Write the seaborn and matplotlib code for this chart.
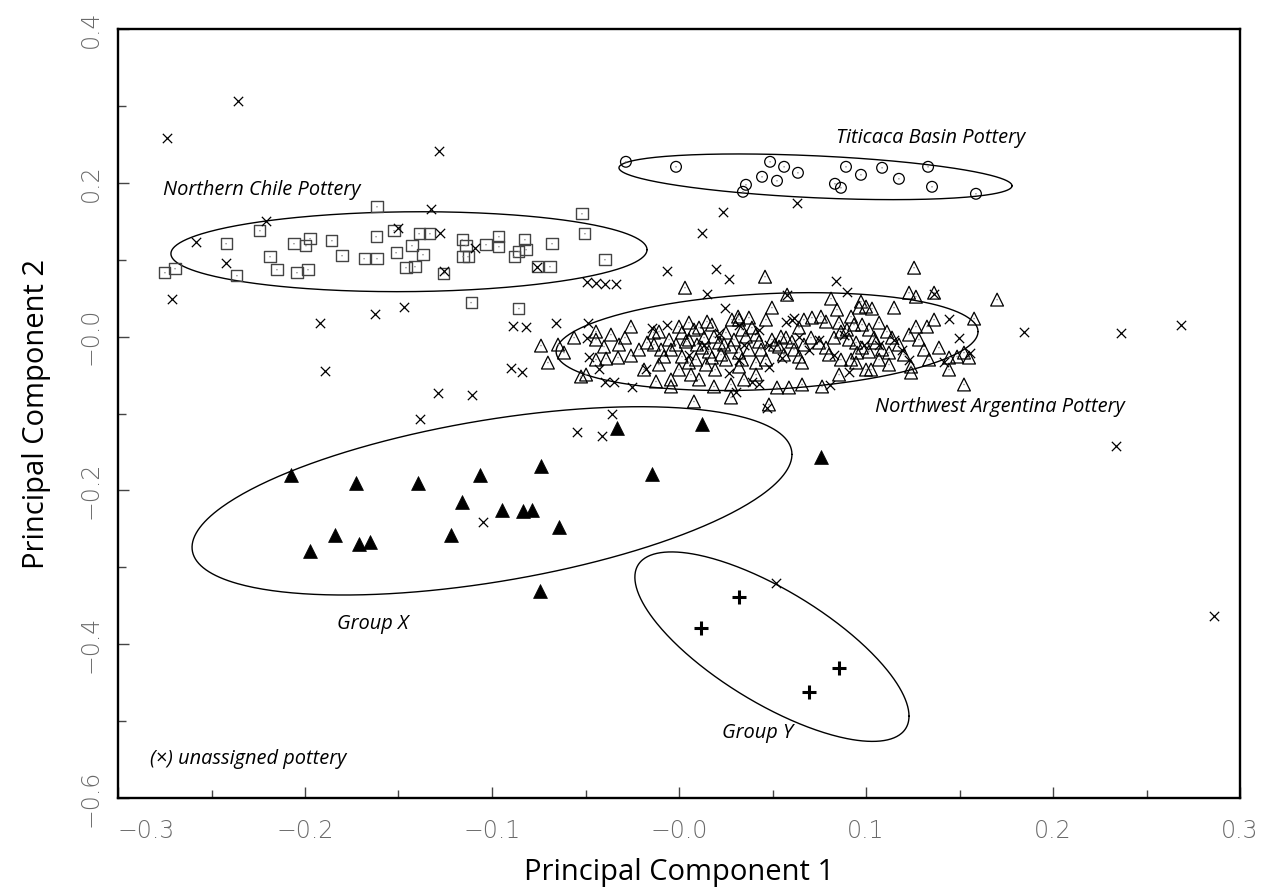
import numpy as np
import pandas as pd
import matplotlib
matplotlib.use("Agg")
import matplotlib.pyplot as plt
from matplotlib.ticker import MultipleLocator
import seaborn as sns

# ---------------- data (PC1, PC2) ----------------
titicaca = [(-0.0284, 0.2273), (-0.0016, 0.2208), (0.0487, 0.2273), (0.0562, 0.2208), (0.0636, 0.2130),
            (0.0444, 0.2078), (0.0524, 0.2026), (0.0358, 0.1974), (0.0342, 0.1883), (0.0893, 0.2208),
            (0.0973, 0.2104), (0.1086, 0.2195), (0.1176, 0.2052), (0.1332, 0.2208), (0.0834, 0.1987),
            (0.0866, 0.1935), (0.1353, 0.1948), (0.1588, 0.1857)]

northern_chile = [(-0.2749, 0.0831), (-0.2695, 0.0883), (-0.2422, 0.1208), (-0.2241, 0.1377), (-0.2364, 0.0792),
                  (-0.2187, 0.1039), (-0.2150, 0.0870), (-0.2059, 0.1208), (-0.1995, 0.1182), (-0.1973, 0.1273),
                  (-0.2043, 0.0831), (-0.1984, 0.0870), (-0.1856, 0.1247), (-0.1802, 0.1052), (-0.1684, 0.1013),
                  (-0.1615, 0.1013), (-0.1615, 0.1688), (-0.1620, 0.1299), (-0.1524, 0.1377), (-0.1513, 0.1091),
                  (-0.1460, 0.0896), (-0.1428, 0.1182), (-0.1412, 0.0909), (-0.1390, 0.1338), (-0.1332, 0.1338),
                  (-0.1369, 0.1065), (-0.1257, 0.0818), (-0.1160, 0.1260), (-0.1139, 0.1182), (-0.1155, 0.1039),
                  (-0.1128, 0.1039), (-0.1032, 0.1195), (-0.0963, 0.1299), (-0.0963, 0.1169), (-0.0882, 0.1039),
                  (-0.0856, 0.1104), (-0.0818, 0.1130), (-0.0824, 0.1260), (-0.0759, 0.0909), (-0.0690, 0.0909),
                  (-0.0679, 0.1208), (-0.0519, 0.1597), (-0.0503, 0.1338), (-0.0396, 0.1000), (-0.1112, 0.0442),
                  (-0.0856, 0.0364)]

nw_argentina = [(0.0460, 0.0779), (0.0032, 0.0636), (-0.0738, -0.0117), (-0.0647, -0.0104), (-0.0615, -0.0208),
                (-0.0701, -0.0338), (-0.0444, 0.0065), (-0.0444, -0.0039), (-0.0401, -0.0130), (-0.0444, -0.0299),
                (-0.0390, -0.0286), (-0.0326, -0.0273), (-0.0257, -0.0247), (-0.0289, -0.0013), (-0.0257, 0.0130),
                (-0.0187, -0.0429), (-0.0524, -0.0519), (-0.0497, -0.0494), (-0.0123, -0.0584), (-0.0043, -0.0558),
                (-0.0043, -0.0649), (0.0064, -0.0494), (0.0080, -0.0844), (0.0187, -0.0649), (0.0278, -0.0623),
                (0.0278, -0.0792), (0.0193, -0.0429), (0.0481, -0.0883), (0.0524, -0.0662), (0.0588, -0.0662),
                (0.0412, -0.0494), (0.0321, -0.0390), (-0.0171, -0.0078), (-0.0134, 0.0052), (-0.0107, 0.0065),
                (0.0000, 0.0130), (0.0016, 0.0052), (0.0037, -0.0065), (-0.0053, -0.0039), (-0.0043, -0.0169),
                (0.0080, 0.0091), (0.0107, 0.0117), (0.0134, -0.0013), (0.0123, -0.0143), (0.0176, 0.0156),
                (0.0187, 0.0000), (0.0214, -0.0078), (0.0251, 0.0052), (0.0278, -0.0130), (0.0283, 0.0221),
                (0.0321, 0.0221), (0.0337, 0.0091), (0.0358, 0.0000), (0.0390, 0.0117), (0.0412, 0.0026),
                (0.0428, -0.0065), (0.0465, 0.0221), (0.0497, 0.0377), (0.0497, -0.0039), (0.0535, -0.0130),
                (0.0572, -0.0013), (0.0604, -0.0065), (0.0016, -0.0260), (0.0053, -0.0338), (0.0091, -0.0299),
                (0.0144, -0.0364), (0.0176, -0.0273), (0.0225, -0.0234), (0.0251, -0.0299), (0.0321, -0.0208),
                (0.0337, -0.0299), (0.0412, -0.0338), (0.0465, -0.0299), (0.0578, 0.0545),
                (0.1257, 0.0896), (0.1701, 0.0481), (0.0813, 0.0494), (0.0973, 0.0455), (0.0963, 0.0377),
                (0.1000, 0.0390), (0.1032, 0.0364), (0.1150, 0.0377), (0.1230, 0.0571), (0.1267, 0.0519),
                (0.1364, 0.0571), (0.0845, 0.0351), (0.0920, 0.0260), (0.0979, 0.0156), (0.1070, 0.0182),
                (0.1267, 0.0130), (0.1326, 0.0130), (0.1578, 0.0234), (0.1112, 0.0065), (0.1139, -0.0013),
                (0.0856, 0.0182), (0.0866, 0.0065), (0.0711, 0.0247), (0.0759, 0.0260), (0.0786, 0.0195),
                (0.0668, 0.0221), (0.0642, 0.0117), (0.0545, 0.0000), (0.0749, -0.0078), (0.0786, -0.0143),
                (0.0802, -0.0234), (0.0909, -0.0039), (0.0947, -0.0078), (0.0979, -0.0143), (0.0952, -0.0208),
                (0.1016, -0.0195), (0.1053, -0.0078), (0.1086, -0.0169), (0.1123, -0.0208), (0.0866, -0.0299),
                (0.0920, -0.0299), (0.0947, -0.0338), (0.1000, -0.0429), (0.1027, -0.0429), (0.1123, -0.0364),
                (0.1241, -0.0390), (0.1241, -0.0468), (0.1390, -0.0143), (0.1444, -0.0429), (0.1444, -0.0273),
                (0.1487, -0.0260), (0.1524, -0.0208), (0.1551, -0.0273), (0.1524, -0.0623), (0.0658, -0.0623),
                (0.0765, -0.0649), (0.0658, -0.0338), (0.0642, -0.0260), (0.0561, -0.0234), (0.0316, 0.0260),
                (-0.0134, -0.0104), (-0.0096, -0.0169), (-0.0080, -0.0260), (-0.0016, -0.0104), (0.0053, -0.0039),
                (0.0096, -0.0104), (0.0160, -0.0195), (0.0241, -0.0104), (0.0294, -0.0039), (0.0374, -0.0169),
                (0.0439, -0.0169), (0.0513, -0.0104), (0.0615, -0.0169), (0.0668, -0.0104), (0.0706, -0.0013),
                (0.0829, -0.0013), (0.0898, 0.0091), (0.0936, 0.0156), (0.1016, 0.0091), (0.1043, -0.0013),
                (0.1070, -0.0299), (0.1176, -0.0104), (0.1203, -0.0234), (0.1283, -0.0039), (0.1310, -0.0169),
                (0.1337, -0.0299), (0.1230, 0.0026), (0.0374, 0.0247), (0.0150, 0.0195), (0.0053, 0.0182),
                (-0.0321, -0.0104), (-0.0214, -0.0169), (-0.0364, 0.0026), (-0.0561, -0.0013), (-0.0107, -0.0364),
                (0.0000, -0.0429), (0.0107, -0.0558), (0.0348, -0.0558), (0.0856, -0.0494), (0.1364, 0.0221)]

group_x = [(-0.2075, -0.1805), (-0.1727, -0.1909), (-0.1396, -0.1909), (-0.1064, -0.1805), (-0.0738, -0.1688),
           (-0.0332, -0.1195), (-0.0144, -0.1792), (-0.1160, -0.2156), (-0.0947, -0.2260), (-0.0834, -0.2273),
           (-0.0786, -0.2260), (-0.0642, -0.2481), (-0.1219, -0.2584), (-0.1840, -0.2584), (-0.1711, -0.2701),
           (-0.1652, -0.2675), (-0.1973, -0.2792), (-0.0743, -0.3312), (0.0123, -0.1143), (0.0759, -0.1571)]

group_y = [(0.0321, -0.3390), (0.0118, -0.3792), (0.0856, -0.4312), (0.0695, -0.4623)]

unassigned = [(-0.2358, 0.3065), (-0.2738, 0.2584), (-0.1283, 0.2416), (-0.1326, 0.1662), (-0.2209, 0.1506),
              (-0.2583, 0.1234), (-0.1503, 0.1416), (-0.1278, 0.1351), (-0.2422, 0.0961), (-0.1091, 0.1156),
              (-0.1257, 0.0857), (-0.0759, 0.0909), (-0.2711, 0.0494), (-0.1471, 0.0390), (-0.1626, 0.0299),
              (-0.1920, 0.0182), (-0.0492, 0.0714), (-0.0444, 0.0701), (-0.0396, 0.0688), (-0.0337, 0.0688),
              (-0.0888, 0.0143), (-0.0818, 0.0130), (-0.0658, 0.0182), (-0.0487, 0.0182), (0.0631, 0.1740),
              (0.0235, 0.1623), (0.0123, 0.1351), (-0.0064, 0.0857), (0.0198, 0.0883), (0.0267, 0.0753),
              (0.0150, 0.0558), (0.0840, 0.0727), (0.0898, 0.0584), (0.0246, 0.0377), (0.0578, 0.0545),
              (0.1364, 0.0558), (-0.0144, 0.0117), (-0.0064, 0.0156), (-0.0492, -0.0013), (-0.0481, -0.0260),
              (-0.0428, -0.0416), (-0.0396, -0.0584), (-0.0348, -0.0584), (-0.0251, -0.0649), (-0.0176, -0.0416),
              (0.0267, -0.0468), (0.0305, -0.0714), (0.0390, -0.0584), (0.0428, -0.0610), (0.0481, -0.0390),
              (0.0551, -0.0273), (0.0615, 0.0247), (-0.1893, -0.0442), (-0.0898, -0.0403), (-0.0840, -0.0455),
              (-0.1289, -0.0727), (-0.1107, -0.0753), (-0.1385, -0.1078), (-0.0358, -0.1000), (-0.0545, -0.1247),
              (-0.0412, -0.1299), (-0.1048, -0.2416), (0.0519, -0.3208), (0.0471, -0.0922), (0.1845, 0.0065),
              (0.1444, 0.0234), (0.1497, -0.0013), (0.1556, -0.0208), (0.1417, -0.0325), (0.1193, -0.0169),
              (0.0909, -0.0455), (0.0807, -0.0623), (0.0604, 0.0221), (0.2364, 0.0052), (0.2684, 0.0156),
              (0.2337, -0.1429), (0.2861, -0.3636),
              (0.0321, 0.0156), (0.0348, -0.0104), (0.0428, 0.0091), (0.0572, 0.0195), (0.0642, 0.0000),
              (0.0695, -0.0169), (0.0749, -0.0039), (0.0829, -0.0234), (0.0882, 0.0026), (0.0990, -0.0104),
              (0.1070, -0.0104), (0.1150, -0.0039), (0.1230, -0.0299), (0.0321, -0.0299), (0.0134, -0.0104),
              (0.0053, -0.0234), (0.0481, -0.0104), (0.0214, 0.0052)]

# group ellipses: centre and two conjugate semi-diameters (data units)
ellipse_names = ["Northern Chile", "Titicaca Basin", "Northwest Argentina", "Group X", "Group Y"]
ellipse_cx = [-0.1444, 0.0730, 0.0471, -0.1000, 0.0497]
ellipse_cy = [0.1104, 0.2078, -0.0065, -0.2136, -0.4032]
ellipse_ux = [0.1273, 0.1051, 0.1128, 0.1604, 0.0733]
ellipse_uy = [0.0026, -0.0117, 0.0130, 0.0604, -0.0903]
ellipse_vy = [0.0519, 0.0273, 0.0623, 0.1065, 0.0838]

# annotation texts
label_texts = ["Northern Chile Pottery", "Titicaca Basin Pottery", "Northwest Argentina Pottery",
               "Group X", "Group Y", "(\u00d7) unassigned pottery"]
label_x = [-0.276, 0.084, 0.105, -0.183, 0.023, -0.283]
label_y = [0.191, 0.258, -0.091, -0.374, -0.516, -0.549]

x_ticks = [-0.3, -0.2, -0.1, 0.0, 0.1, 0.2, 0.3]
x_tick_labels = ["\u22120.3", "\u22120.2", "\u22120.1", "\u22120.0", "0.1", "0.2", "0.3"]
y_ticks = [-0.6, -0.4, -0.2, 0.0, 0.2, 0.4]
y_tick_labels = ["\u22120.6", "\u22120.4", "\u22120.2", "\u22120.0", "0.2", "0.4"]
x_label = "Principal Component 1"
y_label = "Principal Component 2"


def frame(points):
    return pd.DataFrame(points, columns=["pc1", "pc2"])


sns.set_theme(style="white")
plt.rcParams["font.family"] = ["DejaVu Sans"]

fig = plt.figure(figsize=(12.7, 8.92), dpi=100)
ax = fig.add_axes([118 / 1270, 1 - 798 / 892, (1240 - 118) / 1270, (798 - 29) / 892])

# ellipses
t = np.linspace(0, 2 * np.pi, 400)
for cx, cy, ux, uy, vy in zip(ellipse_cx, ellipse_cy, ellipse_ux, ellipse_uy, ellipse_vy):
    ex = cx + ux * np.cos(t)
    ey = cy + uy * np.cos(t) + vy * np.sin(t)
    ax.plot(ex, ey, color="black", lw=1.0, zorder=2)

# Northwest Argentina: open triangles
df_arg = frame(nw_argentina)
sns.scatterplot(data=df_arg, x="pc1", y="pc2", marker="^", s=85, facecolor="none",
                edgecolor="black", linewidth=0.9, ax=ax, zorder=3)
# Northern Chile: open squares
df_chl = frame(northern_chile)
sns.scatterplot(data=df_chl, x="pc1", y="pc2", marker="s", s=64, facecolor="none",
                edgecolor="#444444", linewidth=1.0, ax=ax, zorder=3)
# Titicaca: open circles
df_tit = frame(titicaca)
sns.scatterplot(data=df_tit, x="pc1", y="pc2", marker="o", s=60, facecolor="none",
                edgecolor="black", linewidth=0.9, ax=ax, zorder=3)
# small centre dots of the open symbols
for d in (df_arg, df_chl, df_tit):
    sns.scatterplot(data=d, x="pc1", y="pc2", marker="o", s=1.2, color="#888888",
                    edgecolor="none", ax=ax, zorder=4)
# Group X: filled triangles
df_gx = frame(group_x)
sns.scatterplot(data=df_gx, x="pc1", y="pc2", marker="^", s=100, color="black",
                edgecolor="black", linewidth=0.5, ax=ax, zorder=4)
# Group Y: bold plus
df_gy = frame(group_y)
sns.scatterplot(data=df_gy, x="pc1", y="pc2", marker="+", s=95, color="black",
                linewidth=2.2, ax=ax, zorder=4)
# unassigned: crosses
df_un = frame(unassigned)
sns.scatterplot(data=df_un, x="pc1", y="pc2", marker="x", s=45, color="black",
                linewidth=0.9, ax=ax, zorder=5)

# labels
for txt, lx, ly in zip(label_texts, label_x, label_y):
    ax.text(lx, ly, txt, fontsize=14.4, style="italic", family=["Open Sans", "DejaVu Sans"],
            ha="left", va="center", color="black", zorder=6)

ax.set_xlim(-0.3, 0.3)
ax.set_ylim(-0.6, 0.4)
ax.set_xticks(x_ticks)
ax.set_xticklabels(x_tick_labels)
ax.set_yticks(y_ticks)
ax.set_yticklabels(y_tick_labels)
ax.xaxis.set_minor_locator(MultipleLocator(0.05))
ax.yaxis.set_minor_locator(MultipleLocator(0.1))
ax.tick_params(which="both", direction="in", top=False, right=False, color="#444444",
               bottom=True, left=True)
ax.tick_params(which="major", length=8, width=1.0)
ax.tick_params(which="minor", length=5.5, width=1.0)
ax.tick_params(axis="x", which="major", pad=15)
ax.tick_params(axis="y", which="major", pad=11)
for lab in ax.get_xticklabels() + ax.get_yticklabels():
    lab.set_fontsize(17)
    lab.set_fontweight("ultralight")
    lab.set_color("#6a6a6a")
for lab in ax.get_yticklabels():
    lab.set_rotation(90)
    lab.set_va("center")
ax.get_xticklabels()[0].set_ha("left")

for sp in ax.spines.values():
    sp.set_color("black")
    sp.set_linewidth(1.7)

ax.set_xlabel(x_label, fontsize=21, family=["Open Sans", "DejaVu Sans"], color="black", labelpad=11)
ax.set_ylabel(y_label, fontsize=21, family=["Open Sans", "DejaVu Sans"], color="black", labelpad=20)
ax.grid(False)

fig.savefig("out.png", dpi=100)
